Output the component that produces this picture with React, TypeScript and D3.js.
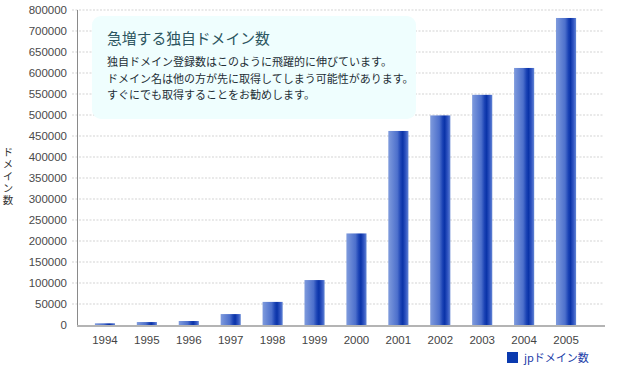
import * as d3 from "d3";
import { useRef, useEffect } from "react";

const years = ["1994", "1995", "1996", "1997", "1998", "1999", "2000", "2001", "2002", "2003", "2004", "2005"];
const domainCounts = [4000, 7000, 9500, 26000, 55000, 107000, 218000, 462000, 499000, 548000, 612000, 731000];
const tickValues = [0, 50000, 100000, 150000, 200000, 250000, 300000, 350000, 400000, 450000, 500000, 550000, 600000, 650000, 700000, 750000];
const tickLabels = ["0", "50000", "100000", "150000", "200000", "250000", "300000", "350000", "400000", "450000", "500000", "550000", "600000", "650000", "700000", "800000"];
const titleText = "急増する独自ドメイン数";
const bodyLines = [
  "独自ドメイン登録数はこのように飛躍的に伸びています。",
  "ドメイン名は他の方が先に取得してしまう可能性があります。",
  "すぐにでも取得することをお勧めします。",
];
const yLabel = "ドメイン数";
const legendLabel = "jpドメイン数";

export default function App() {
  const ref = useRef<SVGSVGElement>(null);

  useEffect(() => {
    const width = 625;
    const height = 370;
    const font = "'Liberation Sans', Arial, 'Noto Sans CJK JP', sans-serif";
    const jpFont = "'Noto Sans CJK JP', sans-serif";

    const svg = d3.select(ref.current);
    svg.selectAll("*").remove();
    svg.attr("width", width).attr("height", height);

    const defs = svg.append("defs");
    const grad = defs.append("linearGradient").attr("id", "barGrad").attr("x1", "0").attr("x2", "1").attr("y1", "0").attr("y2", "0");
    [
      [0, "#7f9bdd"],
      [0.45, "#4d70cc"],
      [0.62, "#1a42b4"],
      [0.72, "#0a33a8"],
      [0.88, "#3559c4"],
      [1, "#6386d4"],
    ].forEach(([o, c]) => grad.append("stop").attr("offset", o as number).attr("stop-color", c as string));

    const x = d3.scaleBand().domain(years).range([84, 587]).paddingInner(0.52).paddingOuter(0.26);
    const y = d3.scaleLinear().domain([0, 750000]).range([325, 10]);

    // gridlines
    svg.append("g")
      .selectAll("line")
      .data(tickValues.filter(d => d > 0))
      .enter()
      .append("line")
      .attr("x1", 72)
      .attr("x2", 603)
      .attr("y1", d => y(d))
      .attr("y2", d => y(d))
      .attr("stroke", "#d4d4d4")
      .attr("stroke-width", 1.2)
      .attr("stroke-dasharray", "2,1.5");

    // y tick labels
    svg.append("g")
      .selectAll("text")
      .data(tickValues)
      .enter()
      .append("text")
      .attr("x", 67)
      .attr("y", d => y(d) + 4)
      .attr("text-anchor", "end")
      .style("font-family", font)
      .style("font-size", "11.5px")
      .style("fill", "#4a4a4a")
      .text((d, i) => tickLabels[i]);

    // info box
    svg.append("rect")
      .attr("x", 92)
      .attr("y", 16)
      .attr("width", 324)
      .attr("height", 103)
      .attr("rx", 9)
      .attr("fill", "#effefe");

    svg.append("text")
      .attr("x", 107)
      .attr("y", 44)
      .style("font-family", jpFont)
      .style("font-size", "14.8px")
      .style("fill", "#2c5560")
      .text(titleText);

    svg.append("g")
      .selectAll("text")
      .data(bodyLines)
      .enter()
      .append("text")
      .attr("x", 107)
      .attr("y", (d, i) => 66 + i * 16.5)
      .style("font-family", jpFont)
      .style("font-size", "11px")
      .style("fill", "#1e2e36")
      .text(d => d);

    // bars
    svg.append("g")
      .selectAll("rect")
      .data(domainCounts)
      .enter()
      .append("rect")
      .attr("x", (d, i) => x(years[i])!)
      .attr("y", d => y(d))
      .attr("width", x.bandwidth())
      .attr("height", d => y(0) - y(d))
      .attr("fill", "url(#barGrad)");

    // axes lines
    svg.append("line")
      .attr("x1", 77.5).attr("x2", 77.5)
      .attr("y1", 10).attr("y2", 325)
      .attr("stroke", "#8a8a8a")
      .attr("stroke-width", 1);
    svg.append("line")
      .attr("x1", 77).attr("x2", 605)
      .attr("y1", 326).attr("y2", 326)
      .attr("stroke", "#b4b4b4")
      .attr("stroke-width", 2);

    // x labels
    svg.append("g")
      .selectAll("text")
      .data(years)
      .enter()
      .append("text")
      .attr("x", d => x(d)! + x.bandwidth() / 2)
      .attr("y", 344)
      .attr("text-anchor", "middle")
      .style("font-family", font)
      .style("font-size", "11.5px")
      .style("fill", "#444")
      .text(d => d);

    // y axis title, written vertically
    svg.append("text")
      .attr("x", 8)
      .attr("y", 147)
      .style("writing-mode", "vertical-rl")
      .style("text-orientation", "upright")
      .style("letter-spacing", "1.5px")
      .style("font-family", jpFont)
      .style("font-size", "10.5px")
      .style("fill", "#333")
      .text(yLabel);

    // legend
    svg.append("rect")
      .attr("x", 507)
      .attr("y", 352)
      .attr("width", 11)
      .attr("height", 11)
      .attr("fill", "#0a3aaf");
    svg.append("text")
      .attr("x", 524)
      .attr("y", 362)
      .style("font-family", jpFont)
      .style("font-size", "11px")
      .style("fill", "#1a3ca8")
      .text(legendLabel);
  }, []);

  return <svg ref={ref} style={{ position: "absolute", left: 0, top: 0 }}></svg>;
}
